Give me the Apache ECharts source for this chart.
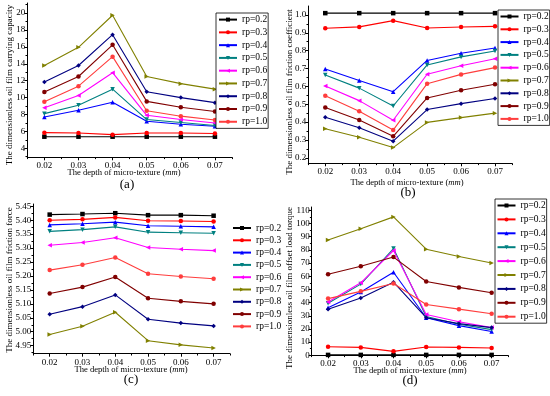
<!DOCTYPE html>
<html>
<head>
<meta charset="utf-8">
<script src="https://cdn.jsdelivr.net/npm/echarts@6/dist/echarts.min.js"></script>
<style>html,body{margin:0;padding:0;background:#fff;}#c{width:550px;height:396px;}</style>
</head>
<body>
<div id="c"></div>
<script>
// ---------- data ----------
const categories = ['0.02', '0.03', '0.04', '0.05', '0.06', '0.07'];
const rpNames = ['rp=0.2', 'rp=0.3', 'rp=0.4', 'rp=0.5', 'rp=0.6', 'rp=0.7', 'rp=0.8', 'rp=0.9', 'rp=1.0'];

// (a) carrying capacity
const capacity_rp02 = [5.37, 5.37, 5.37, 5.37, 5.37, 5.37];
const capacity_rp03 = [5.85, 5.80, 5.61, 5.80, 5.80, 5.75];
const capacity_rp04 = [7.70, 8.50, 9.45, 7.20, 6.85, 6.60];
const capacity_rp05 = [8.10, 9.10, 11.0, 7.40, 7.05, 6.70];
const capacity_rp06 = [8.80, 10.25, 12.95, 7.90, 7.40, 7.00];
const capacity_rp07 = [13.8, 15.95, 19.75, 12.5, 11.65, 11.0];
const capacity_rp08 = [11.85, 13.8, 17.45, 10.7, 10.0, 9.40];
const capacity_rp09 = [10.65, 12.5, 16.25, 9.55, 8.85, 8.35];
const capacity_rp10 = [9.50, 11.35, 14.85, 8.45, 7.80, 7.35];

// (b) friction coefficient
const coef_rp02 = [1.01, 1.01, 1.01, 1.01, 1.01, 1.01];
const coef_rp03 = [0.925, 0.933, 0.968, 0.927, 0.932, 0.936];
const coef_rp04 = [0.697, 0.633, 0.570, 0.745, 0.785, 0.815];
const coef_rp05 = [0.663, 0.590, 0.490, 0.720, 0.765, 0.798];
const coef_rp06 = [0.602, 0.520, 0.410, 0.668, 0.715, 0.755];
const coef_rp07 = [0.362, 0.315, 0.257, 0.398, 0.425, 0.450];
const coef_rp08 = [0.427, 0.368, 0.293, 0.470, 0.503, 0.532];
const coef_rp09 = [0.482, 0.411, 0.320, 0.535, 0.578, 0.612];
const coef_rp10 = [0.548, 0.460, 0.355, 0.615, 0.667, 0.705];

// (c) friction force
const force_rp02 = [5.420, 5.422, 5.425, 5.418, 5.418, 5.416];
const force_rp03 = [5.400, 5.403, 5.410, 5.398, 5.397, 5.395];
const force_rp04 = [5.383, 5.387, 5.393, 5.380, 5.378, 5.376];
const force_rp05 = [5.360, 5.366, 5.376, 5.357, 5.355, 5.353];
const force_rp06 = [5.310, 5.320, 5.337, 5.302, 5.296, 5.291];
const force_rp07 = [4.990, 5.020, 5.070, 4.968, 4.953, 4.942];
const force_rp08 = [5.063, 5.090, 5.132, 5.045, 5.031, 5.021];
const force_rp09 = [5.137, 5.160, 5.196, 5.120, 5.109, 5.100];
const force_rp10 = [5.221, 5.240, 5.266, 5.208, 5.198, 5.190];

// (d) offset load torque
const torque_rp02 = [0.3, 0.3, 0.3, 0.3, 0.3, 0.3];
const torque_rp03 = [6.5, 6.0, 3.0, 6.3, 6.0, 5.5];
const torque_rp04 = [36.0, 48.0, 63.0, 28.5, 22.5, 18.0];
const torque_rp05 = [39.5, 54.0, 81.0, 29.5, 23.5, 19.5];
const torque_rp06 = [40.5, 55.0, 79.5, 31.0, 25.5, 21.0];
const torque_rp07 = [87.5, 96.0, 105.0, 80.5, 75.0, 70.0];
const torque_rp08 = [35.0, 43.5, 55.5, 28.5, 24.0, 21.0];
const torque_rp09 = [61.5, 67.5, 74.5, 56.0, 51.5, 47.5];
const torque_rp10 = [43.0, 48.5, 54.5, 38.5, 35.0, 31.5];

// tick labels
const yTicksA = [4, 6, 8, 10, 12, 14, 16, 18, 20];
const yTicksB = [0.2, 0.3, 0.4, 0.5, 0.6, 0.7, 0.8, 0.9, 1.0];
const yTicksC = [4.95, 5.00, 5.05, 5.10, 5.15, 5.20, 5.25, 5.30, 5.35, 5.40, 5.45];
const yTicksD = [0, 10, 20, 30, 40, 50, 60, 70, 80, 90, 100, 110];

const yTitles = [
  'The dimensionless oil film carrying capacity',
  'The dimensionless oil film friction coefficient',
  'The dimensionless oil film friction force',
  'The dimensionless oil film offset load torque'
];
const panelLabels = ['(a)', '(b)', '(c)', '(d)'];

// ---------- styling ----------
const FONT = 'Liberation Serif';
const colors = ['#000000', '#ff0000', '#0000ff', '#008080', '#ff00ff', '#808000', '#000080', '#800000', '#ff3d3d'];
const symbols = ['rect', 'circle', 'triangle',
  'path://M0,0L10,0L5,9Z', 'path://M0,5L9,0L9,10Z', 'path://M9,5L0,0L0,10Z',
  'diamond', 'circle', 'circle'];

const panels = [
  { data: [capacity_rp02, capacity_rp03, capacity_rp04, capacity_rp05, capacity_rp06, capacity_rp07, capacity_rp08, capacity_rp09, capacity_rp10],
    ticks: yTicksA, dec: 0, min: 2.93, max: 21.2,
    grid: { left: 27.3, top: 3, width: 204.7, height: 154.3 },
    legend: { left: 216, top: 13, itemGap: 2.77, lh: 8.5, pad: [1.6, 1, 1.6, 2], border: true },
    yTitle: { x: 10, y: 85 }, xTitle: { x: 124, y: 173 }, label: { x: 127, y: 185 } },
  { data: [coef_rp02, coef_rp03, coef_rp04, coef_rp05, coef_rp06, coef_rp07, coef_rp08, coef_rp09, coef_rp10],
    ticks: yTicksB, dec: 1, min: 0.169, max: 1.05,
    grid: { left: 308.3, top: 6, width: 203.7, height: 157.3 },
    legend: { left: 498, top: 10, itemGap: 2.8, lh: 8.5, pad: [1.5, 1, 1.5, 1.5], border: true },
    yTitle: { x: 290, y: 92 }, xTitle: { x: 407, y: 183 }, label: { x: 408, y: 193 } },
  { data: [force_rp02, force_rp03, force_rp04, force_rp05, force_rp06, force_rp07, force_rp08, force_rp09, force_rp10],
    ticks: yTicksC, dec: 2, min: 4.9213, max: 5.458,
    grid: { left: 33.3, top: 204, width: 196.7, height: 149.7 },
    legend: { left: 231, top: 222, itemGap: 2.3, lh: 8.5, pad: [1, 1, 1, 1], border: false },
    yTitle: { x: 10, y: 280 }, xTitle: { x: 131, y: 370 }, label: { x: 131, y: 380 } },
  { data: [torque_rp02, torque_rp03, torque_rp04, torque_rp05, torque_rp06, torque_rp07, torque_rp08, torque_rp09, torque_rp10],
    ticks: yTicksD, dec: 0, min: 0, max: 112.5,
    grid: { left: 311.7, top: 207, width: 196.3, height: 148.3 },
    legend: { left: 495, top: 199, itemGap: 3.9, lh: 8.5, pad: [1.5, 1, 1.5, 1.5], border: true },
    yTitle: { x: 290, y: 288 }, xTitle: { x: 410, y: 371 }, label: { x: 410, y: 381 } }
];

const grids = [], xAxes = [], yAxes = [], legends = [], series = [], graphics = [];

panels.forEach((p, pi) => {
  grids.push(Object.assign({ containLabel: false }, p.grid));
  const minor = [];
  for (let k = 0; k < p.ticks.length; k++) {
    const step = p.ticks[1] - p.ticks[0];
    const m = p.ticks[k] + step / 2;
    if (m < p.max) minor.push(m);
    if (k === 0 && p.ticks[0] - step / 2 > p.min) minor.push(p.ticks[0] - step / 2);
  }
  xAxes.push({
    type: 'category', gridIndex: pi, data: categories, boundaryGap: true, position: 'bottom',
    axisLine: { show: true, lineStyle: { color: '#000', width: 1 } },
    axisTick: { show: true, alignWithLabel: true, interval: 0, length: 3, lineStyle: { color: '#000' } },
    axisLabel: { interval: 0, color: '#000', fontFamily: FONT, fontSize: 9, margin: 4 },
    splitLine: { show: false }
  });
  xAxes.push({
    type: 'category', gridIndex: pi, data: categories, boundaryGap: true, position: 'bottom',
    axisLine: { show: false },
    axisTick: { show: true, alignWithLabel: false, interval: 0, length: 1.8, lineStyle: { color: '#000' } },
    axisLabel: { show: false }, splitLine: { show: false }
  });
  yAxes.push({
    type: 'value', gridIndex: pi, min: p.min, max: p.max, position: 'left',
    axisLine: { show: true, lineStyle: { color: '#000', width: 1 } },
    axisTick: { show: true, length: 3, customValues: p.ticks, lineStyle: { color: '#000' } },
    axisLabel: { customValues: p.ticks, color: '#000', fontFamily: FONT, fontSize: 9, margin: 2,
      formatter: v => Number(v).toFixed(p.dec) },
    splitLine: { show: false }
  });
  yAxes.push({
    type: 'value', gridIndex: pi, min: p.min, max: p.max, position: 'left',
    axisLine: { show: false },
    axisTick: { show: true, length: 1.8, customValues: minor, lineStyle: { color: '#000' } },
    axisLabel: { show: false }, splitLine: { show: false }
  });
  p.data.forEach((arr, i) => {
    series.push({
      type: 'line', name: rpNames[i], xAxisIndex: pi * 2, yAxisIndex: pi * 2,
      data: arr, symbol: symbols[i], symbolSize: 4.5, showSymbol: true,
      lineStyle: { color: colors[i], width: 1.1 },
      itemStyle: { color: colors[i] },
      emphasis: { disabled: true }, animation: false, z: 2
    });
  });
  const L = p.legend;
  legends.push({
    orient: 'vertical', left: L.left, top: L.top, padding: L.pad, itemGap: L.itemGap,
    itemWidth: 18, itemHeight: 5, backgroundColor: '#fff',
    borderColor: L.border ? '#000' : 'transparent', borderWidth: L.border ? 0.8 : 0,
    textStyle: { color: '#000', fontFamily: FONT, fontSize: 9.5, lineHeight: L.lh },
    selectedMode: false, data: rpNames, z: 10
  });
  graphics.push({
    type: 'text', x: p.yTitle.x, y: p.yTitle.y, rotation: Math.PI / 2,
    style: { text: yTitles[pi], font: '9px "Liberation Serif"', fill: '#000', align: 'center', verticalAlign: 'middle' }
  });
  graphics.push({
    type: 'text', x: p.xTitle.x, y: p.xTitle.y,
    style: {
      text: 'The depth of micro-texture ({i|mm})', font: '8.6px "Liberation Serif"', fill: '#000',
      align: 'center', verticalAlign: 'middle',
      rich: { i: { fontStyle: 'italic', fontFamily: FONT, fontSize: 8.6, fill: '#000' } }
    }
  });
  graphics.push({
    type: 'text', x: p.label.x, y: p.label.y,
    style: { text: panelLabels[pi], font: '13px "Liberation Serif"', fill: '#000', align: 'center', verticalAlign: 'middle' }
  });
});

const chart = echarts.init(document.getElementById('c'), null, { renderer: 'canvas' });
chart.setOption({
  backgroundColor: '#fff',
  animation: false,
  grid: grids, xAxis: xAxes, yAxis: yAxes, legend: legends, series: series,
  graphic: { elements: graphics }
});
</script>
</body>
</html>
